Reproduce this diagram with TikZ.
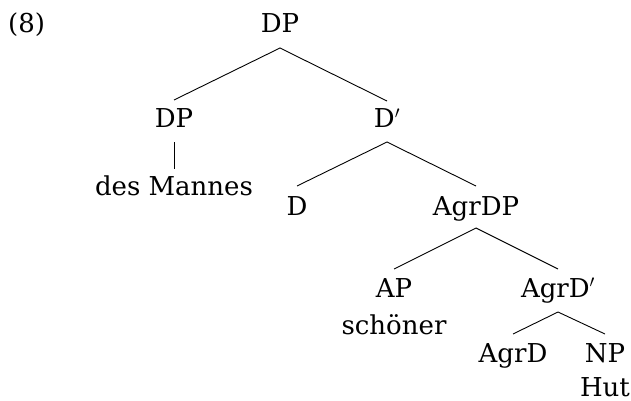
\documentclass[tikz,border=0pt]{standalone}
\usepackage{fontspec}
\setmainfont{DejaVu Serif}
\begin{document}
\begin{tikzpicture}[x=1pt,y=1pt,
  lbl/.style={anchor=base,inner sep=0pt,font=\fontsize{26}{30}\selectfont},
  br/.style={line width=0.9pt}]
\useasboundingbox (0,0) rectangle (631,-401);
\node[lbl,anchor=base west] (ex) at (8,-33) {(8)};
\node[lbl] (dp) at (280,-33) {DP};
\node[lbl] (dpl) at (174,-128) {DP};
\node[lbl] (dm) at (174,-195) {des Mannes};
\node[lbl] (dbar) at (387,-128) {D$'$};
\node[lbl] (d) at (297,-215) {D};
\node[lbl] (agrdp) at (476,-215) {AgrDP};
\node[lbl] (ap) at (394,-297) {AP};
\node[lbl] (sch) at (394,-334) {schöner};
\node[lbl] (agrdbar) at (558,-297) {AgrD$'$};
\node[lbl] (agrd) at (513,-362) {AgrD};
\node[lbl] (np) at (605,-362) {NP};
\node[lbl] (hut) at (605,-396) {Hut};
\draw[br] ([yshift=28pt]dpl.base) -- ([yshift=-15pt]dp.base) -- ([yshift=27pt]dbar.base);
\draw[br] ([yshift=-14pt]dpl.base) -- ([yshift=26pt]dm.base);
\draw[br] ([yshift=29pt]d.base) -- ([yshift=-14pt]dbar.base) -- ([yshift=29pt]agrdp.base);
\draw[br] ([yshift=28pt]ap.base) -- ([yshift=-13pt]agrdp.base) -- ([yshift=28pt]agrdbar.base);
\draw[br] ([yshift=28pt]agrd.base) -- ([yshift=-15pt]agrdbar.base) -- ([yshift=28pt]np.base);
\end{tikzpicture}
\end{document}
